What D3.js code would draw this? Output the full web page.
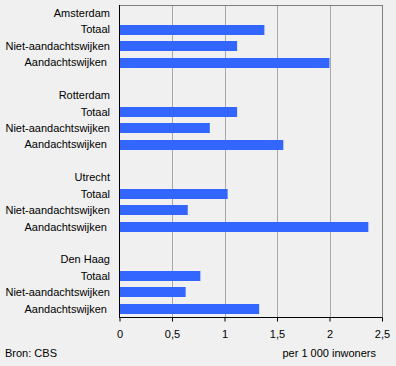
<!DOCTYPE html>
<html>
<head>
<meta charset="utf-8">
<script src="https://cdn.jsdelivr.net/npm/d3@7"></script>
<style>
body { margin: 0; background: #f0f0f0; }
text { font-family: Arial, "Liberation Sans", sans-serif; font-size: 11px; fill: #000; }
</style>
</head>
<body>
<script>
var width = 396;
var height = 366;

var cities = ["Amsterdam", "Rotterdam", "Utrecht", "Den Haag"];
var groups = ["Totaal", "Niet-aandachtswijken", "Aandachtswijken"];
// per city: Totaal, Niet-aandachtswijken, Aandachtswijken
var values = [
    [1.38, 1.12, 2.0],
    [1.12, 0.86, 1.56],
    [1.03, 0.65, 2.37],
    [0.77, 0.63, 1.33]
];
var ticks = [0, 0.5, 1, 1.5, 2, 2.5];
var tickLabels = ["0", "0,5", "1", "1,5", "2", "2,5"];

// build rows: header, 3 bars, blank spacer
var rows = [];
cities.forEach(function(c, i) {
    rows.push({key: "h" + i, label: c, value: null});
    groups.forEach(function(g, j) {
        rows.push({key: "b" + i + j, label: g, value: values[i][j]});
    });
    if (i < cities.length - 1) rows.push({key: "s" + i, label: "", value: null});
});

var plotLeft = 119.5, plotRight = 382, plotTop = 5, plotBottom = 317;

var x = d3.scaleLinear().domain([0, 2.5]).range([plotLeft, plotRight]);
var y = d3.scaleBand().domain(rows.map(function(d) { return d.key; }))
    .range([plotTop, plotBottom]).paddingInner(0.4).paddingOuter(0.2);

var svg = d3.select("body").append("svg")
    .attr("width", width)
    .attr("height", height);

svg.append("rect").attr("width", width).attr("height", height).attr("fill", "#f0f0f0");

// gridlines
svg.append("g")
    .selectAll("line")
    .data(ticks.slice(1))
    .enter()
    .append("line")
    .attr("x1", function(d) { return Math.round(x(d)) + 0.5; })
    .attr("x2", function(d) { return Math.round(x(d)) + 0.5; })
    .attr("y1", plotTop)
    .attr("y2", plotBottom)
    .attr("stroke", function(d) { return d === 2.5 ? "#808080" : "#a8a8a8"; })
    .attr("stroke-width", 1);

// top border
svg.append("line")
    .attr("x1", plotLeft).attr("x2", Math.round(x(2.5)) + 0.5)
    .attr("y1", plotTop + 0.5).attr("y2", plotTop + 0.5)
    .attr("stroke", "#808080");

// bars
svg.append("g")
    .selectAll("rect")
    .data(rows.filter(function(d) { return d.value !== null; }))
    .enter()
    .append("rect")
    .attr("x", x(0))
    .attr("y", function(d) { return Math.round(y(d.key)); })
    .attr("width", function(d) { return x(d.value) - x(0); })
    .attr("height", Math.round(y.bandwidth()))
    .attr("fill", "#3366ff");

// row labels
svg.append("g")
    .selectAll("text")
    .data(rows)
    .enter()
    .append("text")
    .attr("x", function(d) { return d.label === "Aandachtswijken" ? 107 : 110; })
    .attr("y", function(d) { return y(d.key) + y.bandwidth() / 2; })
    .attr("dy", "0.35em")
    .attr("text-anchor", "end")
    .text(function(d) { return d.label; });

// left axis
svg.append("line")
    .attr("x1", Math.floor(plotLeft) + 0.5).attr("x2", Math.floor(plotLeft) + 0.5)
    .attr("y1", plotTop).attr("y2", plotBottom)
    .attr("stroke", "#000");

// bottom axis
var xAxis = d3.axisBottom(x)
    .tickValues(ticks)
    .tickFormat(function(d, i) { return tickLabels[i]; })
    .tickSize(4)
    .tickPadding(9);

var ax = svg.append("g")
    .attr("transform", "translate(0," + (plotBottom + 0.5) + ")")
    .call(xAxis);
ax.select(".domain").remove();
ax.append("line").attr("x1", plotLeft - 0.5).attr("x2", x(2.5) + 0.5).attr("stroke", "#000");
ax.selectAll(".tick line").attr("stroke", "#000");
ax.selectAll(".tick text").attr("font-size", 11).attr("font-family", "Arial, 'Liberation Sans', sans-serif").attr("fill", "#000");

svg.append("text").attr("x", 5).attr("y", 357).text("Bron: CBS");
svg.append("text").attr("x", 376).attr("y", 357).attr("text-anchor", "end").text("per 1 000 inwoners");
</script>
</body>
</html>
